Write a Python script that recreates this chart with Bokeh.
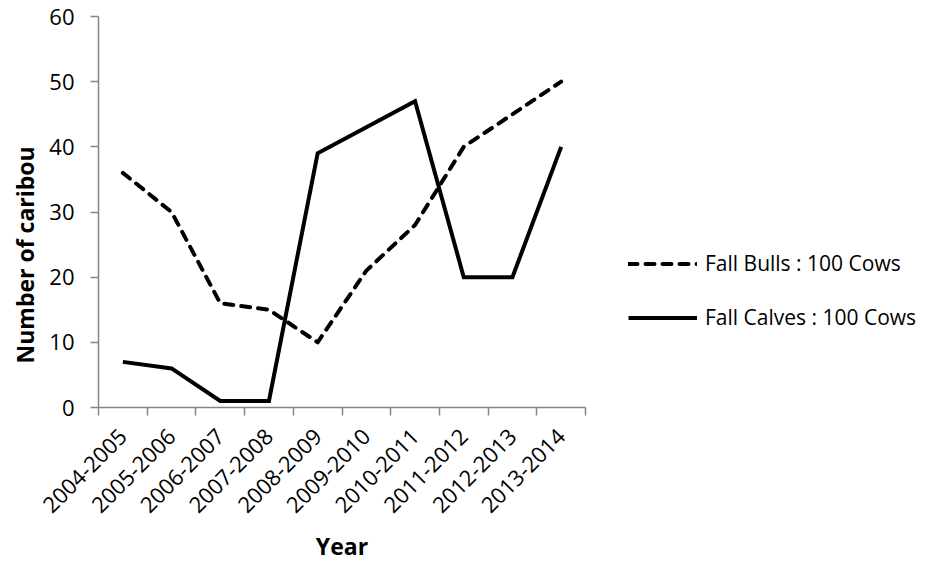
from bokeh.plotting import figure
from bokeh.models import Range1d, FixedTicker, Legend, LegendItem, Title
from bokeh.embed import file_html
from bokeh.resources import INLINE
import math

years = ["2004-2005", "2005-2006", "2006-2007", "2007-2008", "2008-2009",
         "2009-2010", "2010-2011", "2011-2012", "2012-2013", "2013-2014"]
bulls = [36, 30, 16, 15, 10, 21, 28, 40, 45, 50]
calves = [7, 6, 1, 1, 39, 43, 47, 20, 20, 40]
y_ticks = [0, 10, 20, 30, 40, 50, 60]

x = [i + 0.5 for i in range(len(years))]
FONT = "Open Sans"
AXIS_GRAY = "#868686"

p = figure(frame_width=487, frame_height=391, output_backend="svg", toolbar_location=None,
           x_range=Range1d(0, len(years)), y_range=Range1d(0, 60),
           min_border_left=98, min_border_right=0, min_border_top=16,
           min_border_bottom=0)
p.outline_line_color = None
p.xgrid.visible = False
p.ygrid.visible = False

r_bulls = p.line(x, bulls, line_color="black", line_width=4, line_dash="9 8",
                 line_cap="round", line_join="round")
r_calves = p.line(x, calves, line_color="black", line_width=4, line_join="miter")

# x axis: labels at category centres, tick marks at category boundaries
xa = p.xaxis[0]
xa.ticker = FixedTicker(ticks=x, minor_ticks=list(range(len(years) + 1)))
xa.major_label_overrides = {xi: y for xi, y in zip(x, years)}
xa.major_tick_out = 0
xa.major_tick_in = 0
xa.minor_tick_out = 8
xa.minor_tick_in = 0
xa.minor_tick_line_color = AXIS_GRAY
xa.minor_tick_line_width = 1.5
xa.axis_line_color = AXIS_GRAY
xa.axis_line_width = 1.5
xa.major_label_orientation = math.pi / 4
xa.major_label_text_font = FONT
xa.major_label_text_font_size = "22px"
xa.major_label_text_color = "black"
xa.major_label_standoff = 17
xa.axis_label = "Year"
xa.axis_label_text_font = FONT
xa.axis_label_text_font_style = "bold"
xa.axis_label_text_font_size = "23px"
xa.axis_label_text_color = "black"
xa.axis_label_standoff = 7

ya = p.yaxis[0]
ya.ticker = FixedTicker(ticks=y_ticks, minor_ticks=[])
ya.major_tick_out = 8
ya.major_tick_in = 0
ya.major_tick_line_color = AXIS_GRAY
ya.major_tick_line_width = 1.5
ya.axis_line_color = AXIS_GRAY
ya.axis_line_width = 1.5
ya.major_label_text_font = FONT
ya.major_label_text_font_size = "22px"
ya.major_label_text_color = "black"
ya.major_label_standoff = 16

ytitle = Title(text="Number of caribou", align="left", offset=44, standoff=11,
               text_font=FONT, text_font_style="bold", text_font_size="23px",
               text_color="black")
p.add_layout(ytitle, "left")

legend = Legend(items=[LegendItem(label="Fall Bulls : 100 Cows", renderers=[r_bulls]),
                       LegendItem(label="Fall Calves : 100 Cows", renderers=[r_calves])],
                location=(43, 76), orientation="vertical",
                glyph_width=69, glyph_height=21, label_height=21, spacing=26,
                label_standoff=8, padding=0, margin=0,
                border_line_color=None, background_fill_alpha=0,
                label_text_font=FONT, label_text_font_size="21px",
                label_text_color="black")
p.add_layout(legend, "right")

open("out.html", "w").write(file_html(p, INLINE))
